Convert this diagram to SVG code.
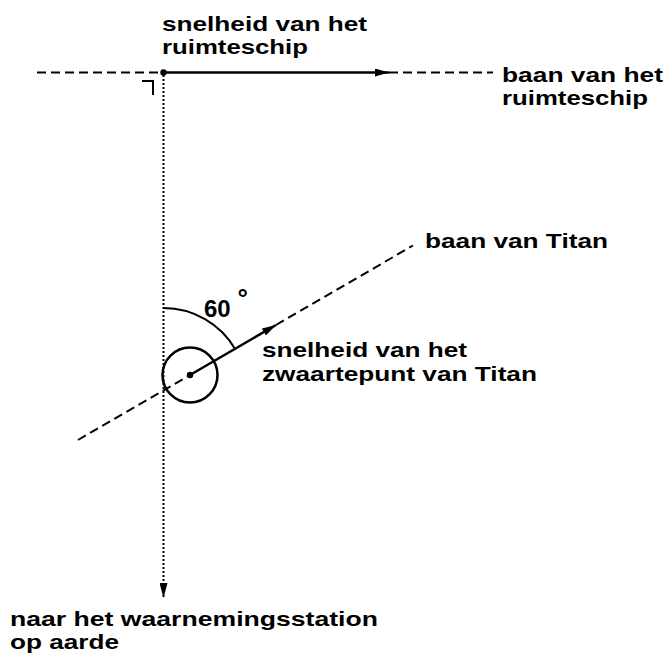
<svg xmlns="http://www.w3.org/2000/svg" width="666" height="657" viewBox="0 0 666 657">
  <style>
    .t { font-family: "Liberation Sans", Arial, sans-serif; font-weight: bold; font-size: 20.5px; fill: #000; }
    .dash { fill: none; stroke: #000; stroke-width: 2; stroke-dasharray: 9 5; }
    .dot { fill: none; stroke: #000; stroke-width: 2; stroke-dasharray: 2 2; }
    .solid { fill: none; stroke: #000; stroke-width: 2.5; }
    .thin { fill: none; stroke: #000; stroke-width: 2; }
  </style>
  <defs>
    <marker id="ah" viewBox="0 0 14 8" refX="14" refY="4" markerWidth="14" markerHeight="8" markerUnits="userSpaceOnUse" orient="auto">
      <path d="M0,0 L14,4 L0,8 Z" fill="#000"/>
    </marker>
    <marker id="ahv" viewBox="0 0 15 8" refX="15" refY="4" markerWidth="15" markerHeight="8" markerUnits="userSpaceOnUse" orient="auto">
      <path d="M0,0 L15,4 L0,8 Z" fill="#000"/>
    </marker>
  </defs>

  <g id="connectors">
    <!-- spacecraft path -->
    <line class="dash" x1="37" y1="72.5" x2="158" y2="72.5"/>
    <line class="solid" x1="163.5" y1="72.5" x2="389" y2="72.5" marker-end="url(#ah)"/>
    <line class="dash" x1="389" y1="72.5" x2="493" y2="72.5"/>
    <!-- right angle -->
    <path class="thin" d="M142,81 H153 V95"/>
    <!-- line of sight to Earth -->
    <line class="dot" x1="163.5" y1="75" x2="163.5" y2="598" marker-end="url(#ahv)"/>
    <!-- Titan orbit -->
    <line class="dash" x1="78" y1="440" x2="190" y2="375"/>
    <line class="dash" x1="276" y1="325" x2="413" y2="245.5"/>
    <!-- Titan velocity -->
    <line class="solid" x1="190" y1="375" x2="276" y2="325" marker-end="url(#ah)"/>
    <!-- 60 degree arc -->
    <path class="thin" d="M163.5,308 A83,83 0 0 1 235.4,349.5"/>
  </g>

  <g id="ruimteschip">
    <circle cx="163.5" cy="72.5" r="3.2" fill="#000"/>
  </g>

  <g id="titan">
    <circle cx="190" cy="375" r="27.5" fill="none" stroke="#000" stroke-width="2.5"/>
    <circle cx="190" cy="375" r="3.2" fill="#000"/>
  </g>

  <g id="label-snelheid-ruimteschip">
    <text class="t" x="162" y="31" textLength="205" lengthAdjust="spacingAndGlyphs">snelheid van het</text>
    <text class="t" x="162" y="54" textLength="146" lengthAdjust="spacingAndGlyphs">ruimteschip</text>
  </g>
  <g id="label-baan-ruimteschip">
    <text class="t" x="502" y="82" textLength="161" lengthAdjust="spacingAndGlyphs">baan van het</text>
    <text class="t" x="502" y="105" textLength="146" lengthAdjust="spacingAndGlyphs">ruimteschip</text>
  </g>
  <g id="label-baan-titan">
    <text class="t" x="425" y="248" textLength="183" lengthAdjust="spacingAndGlyphs">baan van Titan</text>
  </g>
  <g id="label-hoek">
    <text class="t" x="204" y="317" style="font-size:24px">60 <tspan dy="-10" style="font-size:26px">°</tspan></text>
  </g>
  <g id="label-snelheid-titan">
    <text class="t" x="262" y="357" textLength="205" lengthAdjust="spacingAndGlyphs">snelheid van het</text>
    <text class="t" x="262" y="380.5" textLength="275" lengthAdjust="spacingAndGlyphs">zwaartepunt van Titan</text>
  </g>
  <g id="label-aarde">
    <text class="t" x="10" y="626" textLength="368" lengthAdjust="spacingAndGlyphs">naar het waarnemingsstation</text>
    <text class="t" x="10" y="649" textLength="109" lengthAdjust="spacingAndGlyphs">op aarde</text>
  </g>
</svg>
